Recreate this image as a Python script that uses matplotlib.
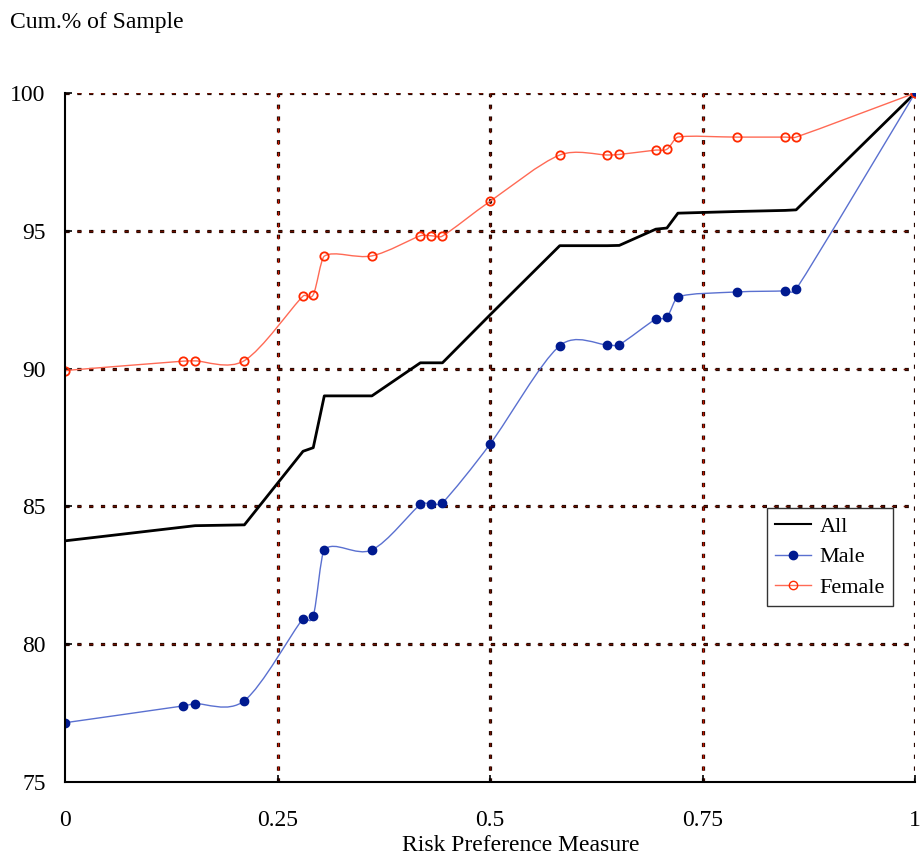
import matplotlib
matplotlib.use("Agg")
import matplotlib.pyplot as plt
from matplotlib.path import Path
from matplotlib.patches import PathPatch
from matplotlib.lines import Line2D
import numpy as np

# values
risk = [0.0, 0.139, 0.153, 0.211, 0.280, 0.292, 0.305, 0.361, 0.418, 0.431, 0.444,
        0.500, 0.582, 0.638, 0.652, 0.695, 0.708, 0.721, 0.790, 0.847, 0.860, 1.0]
all_cum = [83.75, 84.25, 84.3, 84.33, 87.0, 87.13, 89.01, 89.01, 90.21, 90.21, 90.21,
           91.95, 94.46, 94.46, 94.47, 95.06, 95.1, 95.64, 95.7, 95.74, 95.76, 100.0]
male_cum = [77.15, 77.76, 77.84, 77.95, 80.93, 81.02, 83.42, 83.42, 85.07, 85.1, 85.13,
            87.26, 90.83, 90.86, 90.87, 91.8, 91.87, 92.6, 92.78, 92.82, 92.88, 100.0]
female_cum = [89.93, 90.27, 90.28, 90.29, 92.63, 92.68, 94.08, 94.09, 94.82, 94.82, 94.81,
              96.07, 97.75, 97.75, 97.77, 97.93, 97.96, 98.4, 98.4, 98.4, 98.4, 100.0]

xticks = [0, 0.25, 0.5, 0.75, 1]
xtick_labels = ["0", "0.25", "0.5", "0.75", "1"]
yticks = [75, 80, 85, 90, 95, 100]

plt.rcParams['font.family'] = ['Liberation Serif', 'DejaVu Serif']


def smooth_path(x, y):
    # Excel-style smoothed line: catmull-rom segments as cubic beziers,
    # tangents clamped so a segment never folds back on itself
    pts = np.column_stack([x, y]).astype(float)
    n = len(pts)
    verts = [pts[0]]
    codes = [Path.MOVETO]
    for i in range(n - 1):
        p0 = pts[max(i - 1, 0)]
        p1 = pts[i]
        p2 = pts[i + 1]
        p3 = pts[min(i + 2, n - 1)]
        dx = p2[0] - p1[0]
        t1 = (p2 - p0) / 6
        t2 = (p3 - p1) / 6
        if t1[0] > dx / 3:
            t1 = t1 * (dx / 3) / t1[0]
        if t2[0] > dx / 3:
            t2 = t2 * (dx / 3) / t2[0]
        verts += [p1 + t1, p2 - t2, p2]
        codes += [Path.CURVE4] * 3
    return Path(verts, codes)


fig = plt.figure(figsize=(9.21, 8.58), dpi=100)
ax = fig.add_axes([0.0706, 0.0886, 0.923, 0.803])
ax.set_xlim(0, 1)
ax.set_ylim(75, 100)

# dotted grid, black outline with red core
for v in [0.25, 0.5, 0.75, 1.0]:
    core = '#c01800' if v in (0.25, 0.75) else '#6a1000'
    ax.axvline(v, color='#1a0500', lw=2.3, ls=(0, (1.3, 2.4)), zorder=1)
    ax.axvline(v, color=core, lw=1.0, ls=(0, (3.0, 5.5)), zorder=1)
for h in [80, 85, 90, 95, 100]:
    ax.axhline(h, color='#1a0500', lw=2.3, ls=(0, (1.3, 2.4)), zorder=1)
    ax.axhline(h, color='#6a1000', lw=1.0, ls=(0, (3.0, 5.5)), zorder=1)

ax.plot(risk, all_cum, color='black', lw=2, zorder=3)

ax.add_patch(PathPatch(smooth_path(risk, male_cum), fill=False,
                       edgecolor='#5a70d0', lw=1.0, zorder=3))
ax.plot(risk, male_cum, ls='none', marker='o', ms=6, color='#001a90', zorder=4)

ax.add_patch(PathPatch(smooth_path(risk, female_cum), fill=False,
                       edgecolor='#ff6a55', lw=1.0, zorder=3))
ax.plot(risk, female_cum, ls='none', marker='o', ms=6, mfc='none',
        mec='#ff2a00', mew=1.3, zorder=4)

for s in ['top', 'right']:
    ax.spines[s].set_visible(False)
for s in ['left', 'bottom']:
    ax.spines[s].set_linewidth(1.5)
    ax.spines[s].set_zorder(5)

ax.set_xticks(xticks)
ax.set_xticklabels(xtick_labels)
ax.set_yticks(yticks)
ax.tick_params(direction='in', length=5, width=1.2, labelsize=17, pad=20)
ax.tick_params(axis='y', pad=14)

handles = [
    Line2D([], [], color='black', lw=1.5),
    Line2D([], [], color='#5a70d0', lw=1.0, marker='o', ms=6, mfc='#001a90', mec='#001a90'),
    Line2D([], [], color='#ff6a55', lw=1.0, marker='o', ms=6, mfc='none', mec='#ff2a00'),
]
leg = ax.legend(handles, ['All', 'Male', 'Female'], loc='upper left',
                bbox_to_anchor=(0.826, 0.397), borderaxespad=0, fontsize=16,
                frameon=True, fancybox=False, framealpha=1, edgecolor='#333333',
                handlelength=1.6, borderpad=0.35, labelspacing=0.45, handletextpad=0.4)
leg.get_frame().set_linewidth(1.0)
leg.set_zorder(6)

fig.text(0.011, 0.974, 'Cum.% of Sample', fontsize=17, va='center', ha='left')
fig.text(0.565, 0.002, 'Risk Preference Measure', fontsize=17, va='bottom', ha='center')

fig.savefig('out.png', dpi=100)
